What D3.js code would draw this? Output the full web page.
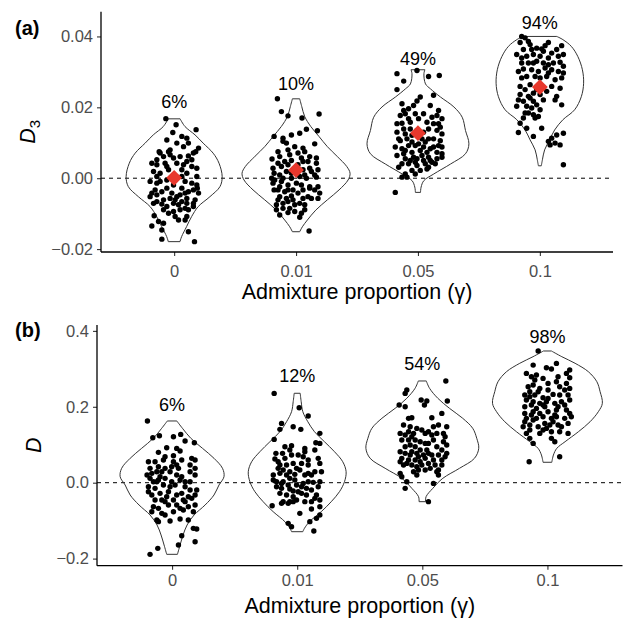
<!DOCTYPE html>
<html>
<head>
<meta charset="utf-8">
<script src="https://cdn.jsdelivr.net/npm/d3@7"></script>
<style>
  body { margin: 0; background: #fff; }
  text { font-family: "Liberation Sans", Arial, Helvetica, sans-serif; }
</style>
</head>
<body>
<svg id="chart" width="623" height="619"></svg>
<script>
// x categories (admixture proportion)
const categories = ["0", "0.01", "0.05", "0.1"];

// ---------- panel (a): D3 ----------
const ticksA = [-0.02, 0, 0.02, 0.04];
const pctA = ["6%", "10%", "49%", "94%"];
const pctYA = [0.0199, 0.0249, 0.032, 0.0422];
const meanA = [0.0001, 0.0023, 0.0127, 0.0257];

// violin outlines: [value, half width in category units]
const violinA0 = [[0.01675,0.049],[0.01458,0.089],[0.01223,0.171],[0.00989,0.238],[0.00706,0.32],[0.00424,0.368],[0.00045,0.394],[-0.00237,0.376],[-0.0052,0.294],[-0.00802,0.197],[-0.01085,0.143],[-0.01367,0.102],[-0.0165,0.061],[-0.0179,0.048]];
const violinA1 = [[0.0224,0.03],[0.0202,0.047],[0.0174,0.071],[0.01458,0.121],[0.01175,0.189],[0.0089,0.257],[0.0061,0.339],[0.0033,0.416],[0.0014,0.443],[-0.0005,0.427],[-0.0033,0.353],[-0.0061,0.257],[-0.009,0.162],[-0.0118,0.093],[-0.0137,0.052],[-0.0151,0.03]];
const violinA2 = [[0.0306,0.057],[0.0295,0.049],[0.0266,0.062],[0.0252,0.103],[0.0229,0.185],[0.0201,0.295],[0.0172,0.363],[0.01345,0.39],[0.0097,0.418],[0.0069,0.39],[0.004,0.267],[0.0012,0.13],[-0.0007,0.048],[-0.0025,0.026],[-0.004,0.021]];
const violinA3 = [[0.04,0.139],[0.0391,0.189],[0.0372,0.258],[0.0343,0.312],[0.0306,0.349],[0.0268,0.359],[0.023,0.34],[0.0193,0.285],[0.0165,0.189],[0.0136,0.121],[0.0108,0.08],[0.008,0.039],[0.0052,0.021],[0.0035,0.012]];

// jittered replicates: [jitter in category units, value]
const pointsA0 = [[-0.068,0.0168],[0.016,0.0151],[-0.011,0.0129],[0.18,0.0137],[0.063,0.0118],[0.104,0.0113],[-0.06,0.0108],[-0.123,0.0075],[0.022,0.0099],[0.2,0.0085],[-0.115,0.0071],[-0.087,0.0061],[-0.033,0.0066],[-0.005,0.0057],[0.049,0.0061],[0.117,0.0063],[0.158,0.0071],[-0.183,0.0042],[-0.142,0.0038],[-0.074,0.0042],[0.022,0.0042],[0.077,0.0038],[0.104,0.0047],[0.145,0.0052],[-0.169,0.0019],[-0.115,0.0014],[-0.046,0.0024],[0.063,0.0024],[0.104,0.0014],[0.186,0.0005],[-0.197,-0.0009],[-0.142,-0.0014],[-0.06,-0.0005],[0.09,-0.0009],[0.145,-0.0014],[0.186,-0.0019],[-0.183,-0.0042],[-0.156,-0.0033],[-0.101,-0.0038],[-0.06,-0.0028],[0.063,-0.0028],[0.117,-0.0038],[0.158,-0.0033],[0.2,-0.0042],[-0.197,-0.0052],[-0.142,-0.0047],[-0.033,-0.0057],[0.008,-0.0061],[0.104,-0.0057],[0.172,-0.0061],[-0.169,-0.0071],[-0.101,-0.0073],[-0.06,-0.008],[-0.005,-0.0071],[0.036,-0.0075],[0.063,-0.0066],[0.09,-0.0085],[0.158,-0.0071],[-0.087,-0.0089],[-0.005,-0.0094],[0.049,-0.0089],[0.117,-0.0089],[0.008,-0.0108],[0.09,-0.0118],[0.104,-0.0108],[-0.164,-0.0106],[-0.128,-0.0122],[-0.087,-0.0127],[-0.183,-0.0135],[-0.101,-0.0146],[0.117,-0.0151],[-0.101,-0.0172],[0.167,-0.0179],[0.022,-0.0052],[-0.019,-0.0042],[-0.046,0.0075],[0.077,0.0089],[0.117,0.0099],[0.145,0.0033],[0.186,0.0028],[-0.142,0.0005],[0.049,-0.0047],[-0.046,-0.0099],[0.158,-0.008],[-0.033,0.008],[0.09,-0.0042],[-0.142,-0.0066],[0.19,-0.0028],[-0.06,0.0033],[0.063,0.0005],[-0.005,-0.0019],[-0.115,-0.0009],[0.104,-0.0071],[-0.087,-0.0061],[0.036,-0.0118],[0.177,0.0075],[-0.142,0.0052]];
const pointsA1 = [[-0.153,0.0224],[-0.12,0.0188],[-0.066,0.0176],[0.049,0.017],[0.189,0.0181],[0.085,0.0138],[0.175,0.0134],[-0.18,0.0118],[-0.107,0.0113],[-0.038,0.0122],[0.03,0.0127],[-0.107,0.0104],[-0.148,0.0075],[-0.066,0.008],[-0.011,0.0089],[0.057,0.0085],[0.153,0.0097],[-0.197,0.0054],[-0.134,0.0061],[-0.052,0.0066],[0.016,0.0071],[0.071,0.0075],[0.112,0.0061],[0.167,0.0057],[-0.189,0.0028],[-0.12,0.0033],[-0.066,0.0038],[0.057,0.0047],[0.098,0.0047],[0.167,0.0042],[-0.18,0.0014],[-0.134,0.0009],[-0.079,0.0019],[0.057,0.0024],[0.126,0.0019],[0.18,0.0024],[-0.175,-0.0005],[-0.12,-0.0009],[-0.038,0],[0.03,0.0005],[0.085,0],[0.167,0.0003],[-0.189,-0.0014],[-0.134,-0.0024],[-0.066,-0.0019],[0.003,-0.0014],[0.044,-0.0019],[0.112,-0.0024],[-0.148,-0.0033],[-0.093,-0.0038],[-0.025,-0.0033],[0.057,-0.0033],[0.112,-0.0028],[0.098,-0.0052],[-0.134,-0.0052],[-0.079,-0.0057],[-0.038,-0.005],[0.016,-0.0042],[0.057,-0.0057],[0.126,-0.0057],[0.18,-0.0057],[-0.161,-0.0075],[-0.107,-0.0071],[-0.066,-0.0066],[-0.011,-0.0075],[0.03,-0.0071],[-0.161,-0.0089],[-0.107,-0.0085],[-0.052,-0.0085],[-0.011,-0.0094],[-0.134,-0.0104],[-0.066,-0.0097],[0.03,-0.011],[0.107,-0.0149],[0.194,-0.0042],[0.071,-0.0075],[0.153,-0.0033],[0.003,0.0024],[-0.093,0.0047],[-0.038,0.0014],[-0.148,0.0042],[0.071,0.0009],[0.016,0.0038],[0.112,0.0028],[-0.066,-0.0033],[-0.107,0],[-0.025,-0.0061],[-0.18,-0.0033],[0.044,-0.0099],[0.18,-0.0024],[0.071,-0.0089],[-0.148,-0.0061],[-0.038,0.005],[0.044,0.0057],[-0.079,0.0099],[0.153,0.0009],[-0.2,0]];
const pointsA2 = [[-0.172,0.0295],[-0.117,0.0274],[-0.008,0.0304],[0.087,0.0287],[0.175,0.029],[-0.172,0.025],[0.128,0.0234],[0.019,0.0229],[-0.008,0.0218],[-0.117,0.0191],[-0.077,0.0196],[-0.036,0.0205],[0.101,0.0205],[0.169,0.0191],[-0.145,0.0177],[-0.104,0.0182],[-0.022,0.0182],[0.046,0.0182],[0.115,0.0172],[0.156,0.0177],[0.197,0.0168],[-0.172,0.0154],[-0.131,0.0155],[-0.063,0.0158],[0.074,0.0158],[0.128,0.0154],[0.183,0.0144],[-0.172,0.013],[-0.104,0.0125],[-0.049,0.0121],[0.046,0.013],[0.087,0.0139],[0.156,0.0135],[0.197,0.0125],[-0.145,0.0106],[-0.09,0.0111],[-0.049,0.0102],[0.087,0.0111],[0.169,0.0092],[-0.186,0.0088],[-0.131,0.0083],[-0.077,0.0092],[-0.022,0.0092],[0.046,0.0088],[0.101,0.0083],[0.128,0.0088],[-0.117,0.0069],[-0.049,0.0073],[0.019,0.0078],[0.074,0.0073],[0.197,0.0069],[-0.172,0.0064],[-0.104,0.0055],[-0.063,0.005],[-0.008,0.0055],[0.046,0.005],[0.101,0.005],[0.156,0.0055],[0.197,0.0059],[-0.131,0.0041],[-0.077,0.0041],[-0.008,0.0036],[0.06,0.0041],[0.115,0.0045],[-0.049,0.0022],[0.019,0.0022],[0.074,0.0026],[-0.104,0.0012],[-0.022,0.0012],[-0.131,0.0003],[-0.09,0.0003],[-0.186,-0.004],[-0.008,0.0135],[-0.158,0.0111],[-0.131,0.021],[0.005,0.0097],[0.06,0.0102],[0.128,0.0111],[0.033,0.0064],[0.087,0.0059],[0.183,0.0106],[-0.063,0.0139],[-0.104,0.0078],[-0.158,0.0031],[0.005,0.0168],[0.169,0.0154],[-0.036,0.0059],[0.087,0.0031],[0.142,0.0041],[-0.077,0.0168],[0.033,0.0111],[-0.117,0.0139],[0.156,0.0073],[0.197,0.0088],[-0.022,0.0045]];
const pointsA3 = [[-0.149,0.04],[-0.121,0.0396],[-0.162,0.0383],[-0.094,0.0386],[0.07,0.0383],[0.179,0.0374],[-0.135,0.0363],[-0.067,0.0363],[-0.026,0.0367],[0.015,0.0365],[0.097,0.0353],[-0.19,0.0349],[-0.108,0.0344],[-0.053,0.0349],[0.002,0.0344],[0.07,0.0339],[0.152,0.0344],[0.193,0.0349],[-0.149,0.0325],[-0.094,0.0325],[-0.026,0.033],[0.029,0.0325],[0.111,0.0325],[0.166,0.0327],[-0.135,0.0308],[-0.067,0.0306],[-0.012,0.0301],[0.043,0.0311],[0.097,0.0306],[0.152,0.0301],[0.193,0.0297],[-0.149,0.0283],[-0.039,0.0287],[0.056,0.0287],[0.179,0.0283],[-0.08,0.0264],[0.097,0.0259],[0.166,0.0254],[-0.162,0.0236],[-0.094,0.0231],[-0.053,0.024],[0.002,0.0236],[-0.176,0.0221],[-0.135,0.0217],[-0.053,0.0217],[0.029,0.0221],[0.125,0.0221],[-0.108,0.0203],[-0.067,0.0198],[-0.026,0.0207],[0.179,0.0207],[-0.121,0.0184],[-0.053,0.0179],[0.002,0.0193],[-0.135,0.017],[-0.039,0.017],[-0.162,0.0155],[-0.108,0.0141],[0.015,0.0141],[0.193,0.0127],[-0.176,0.0129],[-0.053,0.0118],[0.097,0.0113],[0.138,0.0122],[0.07,0.0104],[0.125,0.0099],[0.166,0.0094],[0.084,0.0094],[0.193,0.0038],[-0.08,0.0377],[0.043,0.0374],[-0.149,0.0339],[0.138,0.0363],[-0.053,0.0325],[0.07,0.032],[-0.108,0.0287],[0.002,0.0283],[0.125,0.0278],[-0.121,0.025],[-0.026,0.025],[0.138,0.0231],[-0.19,0.0203],[-0.094,0.0184],[0.07,0.0297],[-0.176,0.0301],[-0.08,0.0226],[-0.012,0.0174],[0.056,0.0245],[0.193,0.0316],[0.029,0.0358],[-0.162,0.0259]];

// ---------- panel (b): D ----------
const ticksB = [-0.2, 0, 0.2, 0.4];
const pctB = ["6%", "12%", "54%", "98%"];
const pctYB = [0.1876, 0.2662, 0.2969, 0.3673];

const violinB0 = [[0.1626,0.038],[0.1433,0.083],[0.117,0.15],[0.0906,0.243],[0.0643,0.335],[0.0379,0.403],[0.0158,0.415],[-0.0061,0.375],[-0.0324,0.335],[-0.0588,0.264],[-0.0851,0.176],[-0.1115,0.12],[-0.1378,0.088],[-0.1642,0.064],[-0.1887,0.043]];
const violinB1 = [[0.2356,0.024],[0.2134,0.032],[0.1871,0.045],[0.1607,0.085],[0.1344,0.138],[0.108,0.218],[0.0817,0.298],[0.0553,0.364],[0.029,0.391],[0.0026,0.378],[-0.0237,0.338],[-0.0501,0.272],[-0.0764,0.192],[-0.1028,0.098],[-0.1202,0.058],[-0.1291,0.045]];
const violinB2 = [[0.268,0.032],[0.2487,0.058],[0.2224,0.124],[0.196,0.217],[0.1697,0.323],[0.1433,0.403],[0.117,0.435],[0.0906,0.451],[0.0643,0.417],[0.0379,0.297],[0.0116,0.164],[-0.0148,0.084],[-0.0369,0.03],[-0.05,0.026]];
const violinB3 = [[0.347,0.032],[0.332,0.115],[0.3146,0.221],[0.2925,0.327],[0.2661,0.395],[0.2398,0.421],[0.2092,0.439],[0.1871,0.407],[0.1607,0.341],[0.1344,0.248],[0.108,0.141],[0.0906,0.075],[0.073,0.048],[0.0538,0.035]];

const pointsB0 = [[-0.197,0.1625],[-0.154,0.1186],[-0.101,0.1238],[0.011,0.1212],[0.069,0.1273],[0.104,0.1098],[0.178,0.1054],[-0.043,0.0922],[0.064,0.0834],[-0.109,0.0799],[-0.056,0.0685],[0.011,0.0711],[-0.189,0.0553],[-0.136,0.0553],[-0.069,0.0597],[0.077,0.0597],[0.157,0.0641],[0.184,0.0597],[-0.176,0.0378],[-0.109,0.0421],[-0.056,0.0378],[-0.003,0.0421],[0.037,0.0465],[0.144,0.0465],[0.184,0.0378],[-0.2,0.0202],[-0.162,0.0246],[-0.122,0.029],[-0.096,0.0158],[-0.016,0.029],[0.037,0.0202],[0.077,0.0158],[0.144,0.029],[0.184,0.0202],[-0.176,0.0114],[-0.109,0.007],[-0.056,0.0114],[-0.003,0.0026],[0.064,0.007],[-0.189,-0.0105],[-0.136,-0.0149],[-0.016,-0.0105],[0.024,-0.0061],[0.104,-0.0105],[0.144,-0.0193],[0.197,-0.0193],[-0.162,-0.0325],[-0.096,-0.0281],[-0.043,-0.0369],[0.037,-0.0325],[0.077,-0.0281],[0.13,-0.0369],[0.184,-0.0325],[-0.136,-0.0457],[-0.056,-0.05],[0.011,-0.0457],[0.09,-0.0457],[0.157,-0.0413],[-0.149,-0.0632],[-0.109,-0.0676],[-0.029,-0.0588],[0.037,-0.0588],[0.064,-0.0676],[0.13,-0.0632],[0.184,-0.0588],[-0.162,-0.0764],[-0.082,-0.0808],[0.011,-0.0764],[0.09,-0.072],[0.17,-0.0764],[-0.122,-0.0983],[-0.109,-0.1027],[-0.016,-0.101],[0.064,-0.0957],[0.13,-0.0983],[0.17,-0.1203],[0.197,-0.122],[0.077,-0.1396],[0.184,-0.1554],[0.051,-0.1642],[-0.114,-0.173],[-0.176,-0.1888],[-0.122,0.0026],[-0.069,-0.0061],[-0.029,-0.0237],[0.104,0.0026],[0.051,0.0378],[-0.082,0.029],[0.011,0.0553],[0.104,-0.05],[-0.056,-0.0852],[-0.189,-0.0237],[0.037,0.0904],[-0.149,0.0026],[0.144,0.0026],[-0.082,-0.0457]];
const pointsB1 = [[-0.184,0.2353],[0.016,0.1976],[0.088,0.1756],[-0.125,0.1563],[-0.032,0.1475],[0.029,0.1405],[-0.138,0.1405],[-0.184,0.1141],[0.181,0.13],[0.149,0.1054],[-0.098,0.0948],[-0.045,0.0975],[0.061,0.0904],[0.181,0.1036],[-0.17,0.0773],[-0.117,0.0773],[-0.045,0.0729],[0.008,0.0729],[0.061,0.0817],[0.141,0.086],[-0.178,0.0623],[-0.138,0.0465],[-0.085,0.0465],[-0.032,0.0509],[0.035,0.0509],[0.088,0.0465],[0.181,0.0509],[-0.152,0.0378],[-0.112,0.0334],[-0.059,0.029],[0.021,0.0334],[0.088,0.0246],[0.141,0.029],[0.194,0.029],[-0.191,0.0202],[-0.138,0.0246],[-0.019,0.022],[0.061,0.0202],[0.114,0.0202],[-0.191,0.007],[-0.165,0.0026],[-0.125,-0.0018],[-0.072,-0.0061],[-0.019,0.007],[0.048,-0.0018],[0.128,0.0009],[0.181,0.0026],[-0.125,-0.0149],[-0.059,-0.0167],[0.008,-0.0237],[0.074,-0.0149],[0.114,-0.0193],[0.168,-0.0105],[-0.138,-0.0281],[-0.085,-0.0325],[-0.032,-0.0369],[0.035,-0.0281],[0.074,-0.0325],[0.154,-0.0325],[-0.112,-0.05],[-0.059,-0.05],[-0.005,-0.0457],[0.114,-0.05],[0.181,-0.0457],[-0.2,-0.0606],[-0.125,-0.0544],[-0.072,-0.0544],[-0.032,-0.05],[0.114,-0.0694],[0.181,-0.0632],[0.021,-0.0808],[0.181,-0.0852],[0.154,-0.0939],[-0.072,-0.1071],[-0.045,-0.1159],[0.101,-0.1027],[0.133,-0.1273],[-0.085,0.0202],[-0.005,0.0378],[-0.165,-0.0105],[0.061,-0.05],[0.088,0.0597],[0.168,0.0641],[-0.059,0.0114],[-0.005,-0.0061],[-0.098,0.0641],[0.088,0.0026],[-0.059,0.086],[0.141,-0.0413],[0.035,-0.0105],[-0.032,-0.022],[-0.152,0.0553],[0.048,0.0685],[-0.112,0.0026]];
const pointsB2 = [[0.188,0.2678],[-0.124,0.2441],[-0.137,0.2353],[-0.009,0.2177],[0.036,0.2151],[0.017,0.2046],[0.2,0.2151],[-0.185,0.2046],[-0.137,0.2002],[-0.11,0.1695],[-0.084,0.1712],[0.076,0.1712],[0.156,0.1826],[-0.15,0.1519],[-0.097,0.1475],[-0.044,0.1431],[-0.004,0.1387],[0.049,0.1343],[0.089,0.1475],[0.129,0.1519],[0.195,0.1475],[-0.177,0.1299],[-0.137,0.1256],[-0.07,0.1299],[0.023,0.1299],[0.076,0.1256],[0.116,0.1299],[0.182,0.1212],[-0.164,0.1124],[-0.11,0.1124],[0.089,0.1124],[0.169,0.108],[0.195,0.0992],[-0.097,0.0992],[-0.057,0.0948],[-0.017,0.086],[0.036,0.086],[0.116,0.0948],[0.156,0.086],[-0.177,0.0817],[-0.137,0.0773],[-0.097,0.0729],[-0.044,0.0773],[0.009,0.0729],[0.049,0.0773],[0.129,0.0729],[0.195,0.0773],[-0.164,0.0641],[-0.11,0.0597],[-0.057,0.0597],[-0.017,0.0553],[0.023,0.0641],[0.089,0.0597],[0.156,0.0597],[-0.15,0.0465],[-0.084,0.0465],[-0.044,0.0421],[-0.004,0.0465],[0.049,0.0509],[0.102,0.0465],[-0.07,0.029],[-0.031,0.0334],[0.023,0.0334],[0.116,0.029],[-0.044,0.0202],[0.129,0.0202],[-0.177,0.0246],[-0.164,0.0158],[-0.124,0.0026],[0.089,-0.0018],[-0.137,-0.0149],[0.049,-0.05],[-0.084,0.1212],[0.049,0.1036],[0.169,0.1299],[-0.017,0.108],[-0.137,0.0948],[-0.084,0.0817],[0.076,0.0729],[0.156,0.0465],[-0.057,0.1124],[0.023,0.1036],[0.182,0.0685],[-0.124,0.0509],[0.129,0.0334],[-0.031,0.0685],[0.063,0.0378],[-0.177,0.0553],[-0.11,0.1343]];
const pointsB3 = [[-0.074,0.3468],[-0.114,0.3099],[-0.008,0.3029],[0.032,0.2994],[0.072,0.3143],[0.178,0.2968],[-0.168,0.288],[-0.128,0.2792],[-0.101,0.2704],[-0.035,0.2748],[0.085,0.2792],[0.152,0.288],[0.178,0.2766],[-0.154,0.2529],[-0.114,0.2573],[-0.061,0.2485],[0.005,0.2441],[0.098,0.2529],[0.138,0.2441],[0.178,0.2485],[-0.181,0.2309],[-0.141,0.2265],[-0.101,0.2309],[-0.035,0.2239],[0.045,0.2327],[0.098,0.2309],[0.165,0.2309],[-0.168,0.2177],[-0.114,0.2134],[-0.061,0.209],[-0.008,0.2134],[0.059,0.209],[0.112,0.2134],[0.178,0.2177],[-0.181,0.2002],[-0.128,0.2046],[-0.088,0.1958],[-0.021,0.2002],[0.085,0.2002],[0.138,0.2046],[-0.181,0.1826],[-0.114,0.187],[-0.061,0.1826],[0.005,0.187],[0.059,0.1782],[0.178,0.1826],[-0.168,0.1695],[-0.114,0.1651],[-0.035,0.1738],[0.032,0.1695],[0.072,0.1738],[0.138,0.1695],[0.191,0.1738],[-0.194,0.1475],[-0.141,0.1519],[-0.074,0.1475],[-0.021,0.1563],[0.019,0.1519],[0.085,0.1519],[0.112,0.1475],[-0.141,0.1387],[-0.035,0.1387],[0.032,0.1343],[0.098,0.1343],[0.165,0.1299],[-0.141,0.1168],[-0.114,0.1036],[0.032,0.1168],[0.059,0.108],[-0.146,0.0553],[0.098,0.0685],[-0.141,0.2397],[0.072,0.266],[-0.074,0.2397],[0.005,0.2616],[0.152,0.2616],[-0.181,0.1607],[-0.088,0.1695],[0.072,0.1914],[0.165,0.1563],[-0.061,0.1299],[-0.035,0.2046],[0.152,0.1914],[-0.128,0.1782],[0.045,0.1607],[-0.008,0.1431],[-0.168,0.1299],[-0.088,0.2836],[0.005,0.2221]];

const svg = d3.select("#chart");

function drawPanel(p) {
    const g = svg.append("g");

    const x = d3.scalePoint().domain(categories).range([p.left, p.right]).padding(0.6);
    const y = d3.scaleLinear().domain(p.yDomain).range([p.bottom, p.top]);
    const step = x.step();

    // 0 reference line
    g.append("line")
        .attr("x1", p.left).attr("x2", p.right)
        .attr("y1", y(0)).attr("y2", y(0))
        .attr("stroke", "#000").attr("stroke-width", 1)
        .attr("stroke-dasharray", "4,4");

    // violins
    p.violins.forEach((v, i) => {
        const cx = x(categories[i]);
        const area = d3.area()
            .y(d => y(d[0]))
            .x0(d => cx - d[1] * step)
            .x1(d => cx + d[1] * step)
            .curve(d3.curveCatmullRom);
        g.append("path").datum(v)
            .attr("d", area)
            .attr("fill", "none")
            .attr("stroke", "#333")
            .attr("stroke-width", 1);
    });

    // jittered points
    p.points.forEach((pts, i) => {
        const cx = x(categories[i]);
        g.append("g").selectAll("circle")
            .data(pts)
            .join("circle")
            .attr("cx", d => cx + d[0] * step)
            .attr("cy", d => y(d[1]))
            .attr("r", 2.7)
            .attr("fill", "#000");
    });

    // mean diamonds
    if (p.means) {
        g.append("g").selectAll("path")
            .data(p.means)
            .join("path")
            .attr("d", d3.symbol(d3.symbolSquare, 125))
            .attr("transform", (d, i) => `translate(${x(categories[i])},${y(d)}) rotate(45)`)
            .attr("fill", "#e8382d");
    }

    // percentage labels
    g.append("g").selectAll("text")
        .data(p.pct)
        .join("text")
        .attr("x", (d, i) => x(categories[i]))
        .attr("y", (d, i) => y(p.pctY[i]))
        .attr("text-anchor", "middle")
        .style("font-size", "18px")
        .attr("fill", "#000")
        .text(d => d);

    // axes
    const yAxis = d3.axisLeft(y).tickValues(p.ticks).tickFormat(d3.format(p.fmt)).tickSize(4).tickPadding(4);
    const ya = g.append("g").attr("transform", `translate(${p.left},0)`).call(yAxis);
    ya.select(".domain").remove();
    ya.selectAll(".tick line").attr("stroke", "#333").attr("stroke-width", 1.1);
    ya.selectAll(".tick text").style("font-size", "16.5px").attr("fill", "#4d4d4d")
        .attr("font-family", null);

    const xAxis = d3.axisBottom(x).tickSize(4);
    const xa = g.append("g").attr("transform", `translate(0,${p.bottom})`).call(xAxis);
    xa.select(".domain").remove();
    xa.selectAll(".tick line").attr("stroke", "#333").attr("stroke-width", 1.1);
    xa.selectAll(".tick text").style("font-size", "16.5px").attr("fill", "#4d4d4d")
        .attr("font-family", null)
        .attr("dy", null).attr("y", p.xLabelY);

    g.append("line").attr("x1", p.left).attr("x2", p.left).attr("y1", p.top).attr("y2", p.bottom)
        .attr("stroke", "#000").attr("stroke-width", 1.3);
    g.append("line").attr("x1", p.left).attr("x2", p.right).attr("y1", p.bottom).attr("y2", p.bottom)
        .attr("stroke", "#000").attr("stroke-width", 1.3);

    // titles
    g.append("text")
        .attr("x", (p.left + p.right) / 2)
        .attr("y", p.bottom + p.xTitleY)
        .attr("text-anchor", "middle")
        .style("font-size", "21.5px")
        .text("Admixture proportion (\u03b3)");

    const yt = g.append("text")
        .attr("transform", `translate(${p.yTitleX},${(p.top + p.bottom) / 2}) rotate(-90)`)
        .attr("text-anchor", "middle")
        .style("font-size", "21.5px");
    yt.append("tspan").style("font-style", "italic").text("D");
    if (p.sub) {
        yt.append("tspan").attr("dy", 5).style("font-size", "15px").text(p.sub);
    }

    g.append("text")
        .attr("x", 15)
        .attr("y", p.tagY)
        .style("font-size", "20px")
        .style("font-weight", "bold")
        .text(p.tag);
}

drawPanel({
    tag: "(a)", tagY: 35,
    left: 101, right: 613, top: 11.7, bottom: 252,
    yDomain: [-0.02082, 0.04698],
    ticks: ticksA, fmt: ".2f",
    violins: [violinA0, violinA1, violinA2, violinA3],
    points: [pointsA0, pointsA1, pointsA2, pointsA3],
    means: meanA,
    pct: pctA, pctY: pctYA,
    xLabelY: 25, xTitleY: 47,
    yTitleX: 35, sub: "3"
});

drawPanel({
    tag: "(b)", tagY: 337,
    left: 97, right: 622.5, top: 325, bottom: 565.7,
    yDomain: [-0.2187, 0.4155],
    ticks: ticksB, fmt: ".1f",
    violins: [violinB0, violinB1, violinB2, violinB3],
    points: [pointsB0, pointsB1, pointsB2, pointsB3],
    means: null,
    pct: pctB, pctY: pctYB,
    xLabelY: 20, xTitleY: 47,
    yTitleX: 41, sub: null
});
</script>
</body>
</html>
